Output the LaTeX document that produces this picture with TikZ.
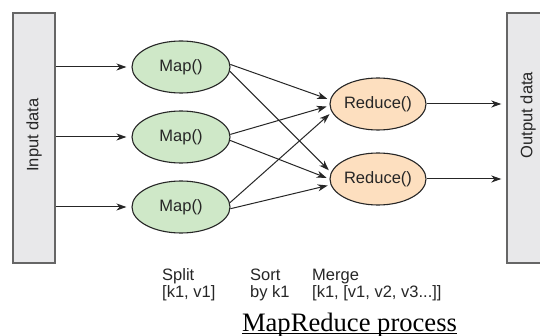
\documentclass[tikz,border=0pt]{standalone}
\usepackage{fontspec}
\setmainfont{Liberation Sans}
\newfontfamily\capfont{Liberation Serif}
\usetikzlibrary{arrows.meta,shapes.geometric}
\definecolor{mapfill}{HTML}{CFE8C8}
\definecolor{redfill}{HTML}{FDDFBF}
\definecolor{boxfill}{HTML}{E8E8EA}
\definecolor{boxline}{HTML}{666666}
\definecolor{txt}{HTML}{262626}
\begin{document}
\begin{tikzpicture}[x=1pt,y=-1pt,
  databox/.style={draw=boxline,fill=boxfill,line width=1.4pt,minimum width=42pt,minimum height=250pt,inner sep=0pt},
  mapnode/.style={ellipse,draw=txt,fill=mapfill,line width=1.1pt,minimum width=98pt,minimum height=52pt,inner sep=0pt,text=txt,font=\fontsize{16.5}{19}\selectfont},
  rednode/.style={ellipse,draw=txt,fill=redfill,line width=1.1pt,minimum width=96pt,minimum height=52pt,inner sep=0pt,text=txt,font=\fontsize{16.5}{19}\selectfont},
  arr/.style={draw=txt,line width=1pt,-{Stealth[length=10pt,width=7pt,inset=3pt]},shorten >=5pt},
  lab/.style={anchor=base west,inner sep=0pt,text=txt,font=\fontsize{16.5}{19}\selectfont},
  rotlab/.style={rotate=90,text=txt,font=\fontsize{16.5}{19}\selectfont,inner sep=0pt}
]
\useasboundingbox (0,0) rectangle (540,336);
\fill[white] (0,0) rectangle (540,336);
% data boxes
\node[databox] (inbox) at (34,138) {};
\node[rotlab] (intxt) at (34,135) {Input data};
\node[databox,minimum width=50pt] (outbox) at (532,138) {};
\node[rotlab] (outtxt) at (528,115) {Output data};
% map and reduce
\node[mapnode] (m1) at (181,67) {Map()};
\node[mapnode] (m2) at (181,137) {Map()};
\node[mapnode] (m3) at (181,207) {Map()};
\node[rednode] (r1) at (378,104) {Reduce()};
\node[rednode] (r2) at (378,179) {Reduce()};
% input arrows
\draw[arr] (inbox.east |- m1) -- (m1.west);
\draw[arr] (inbox.east |- m2) -- (m2.west);
\draw[arr] (inbox.east |- m3) -- (m3.west);
% shuffle arrows
\draw[arr,shorten >=3pt] (m1.3) -- (r1.175);
\draw[arr,shorten >=3pt] (m1.-5) -- (r2.172);
\draw[arr,shorten >=3pt] (m2.3) -- (r1.182);
\draw[arr,shorten >=3pt] (m2.-4) -- (r2.180);
\draw[arr,shorten >=3pt] (m3.5) -- (r1.190);
\draw[arr,shorten >=3pt] (m3.-2) -- (r2.187);
% output arrows
\draw[arr] (r1.east) -- (outbox.west |- r1);
\draw[arr] (r2.east) -- (outbox.west |- r2);
% labels
\node[lab] (split) at (162,280) {Split};
\node[lab] (splitb) at (162,297) {[k1, v1]};
\node[lab] (sort) at (250,280) {Sort};
\node[lab] (sortb) at (250,297) {by k1};
\node[lab] (merge) at (312,280) {Merge};
\node[lab] (mergeb) at (312,297) {[k1, [v1, v2, v3...]]};
\node[anchor=base,inner sep=0pt,font=\capfont\fontsize{26.6}{30}\selectfont] (cap) at (349.5,331) {MapReduce process};
\draw[line width=1.2pt] ([yshift=-2.8pt]cap.base west) -- ([yshift=-2.8pt]cap.base east);
\end{tikzpicture}
\end{document}
